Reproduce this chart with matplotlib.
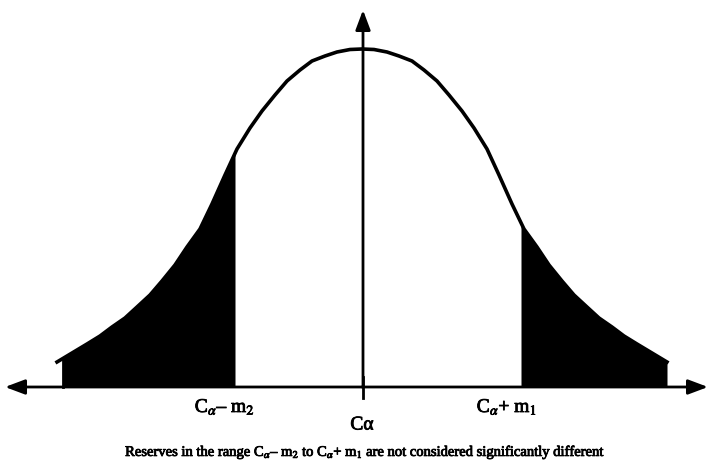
import matplotlib
matplotlib.use('Agg')
import matplotlib.pyplot as plt
import matplotlib.patheffects as pe

plt.rcParams['font.family'] = 'Liberation Serif'
plt.rcParams['mathtext.fontset'] = 'stix'

# Curve: x position (px) and height above the axis (px)
curve_x = [57, 72, 87, 100, 112, 125, 137, 150, 162, 175, 187, 200, 212,
           225, 237, 250, 262, 275, 287, 300, 312, 325, 337, 350,
           362,
           374, 387, 399, 412, 424, 437, 449, 462, 474, 487, 499, 512,
           524, 537, 549, 562, 574, 587, 599, 612, 624, 637, 652, 667]
curve_y = [25, 34, 43, 51, 60, 69, 80, 92, 106, 122, 140, 158, 183,
           212, 238, 259, 276, 292, 306, 317, 326, 331, 335, 337.5,
           338,
           337.5, 335, 331, 326, 317, 306, 292, 276, 259, 238, 212, 183,
           158, 140, 122, 106, 92, 80, 69, 60, 51, 43, 34, 25]

# Shaded tails (x range in px)
left_tail = (63, 235)
right_tail = (521, 667)

center = 362
axis_left, axis_right = 5, 708
axis_top = 377

labels = ['C$_\\alpha$\u2013 m$_2$', 'C\u03b1', 'C$_\\alpha$+ m$_1$']
label_x = [225, 362, 507]
label_y = [-20, -38, -20]
caption = ('Reserves in the range C$_\\alpha$\u2013 m$_2$ to '
           'C$_\\alpha$+ m$_1$ are not considered significantly different')

fig = plt.figure(figsize=(7.1, 4.71), dpi=100)
ax = fig.add_axes([0, 0, 1, 1])
ax.set_xlim(0, 710)
ax.set_ylim(-84, 387)
ax.axis('off')


def tail(lo, hi):
    xs = [x for x in curve_x if lo < x < hi]
    ys = [y for x, y in zip(curve_x, curve_y) if lo < x < hi]
    # curve height at the tail edges, from the neighbouring read points
    def at(v):
        for i in range(len(curve_x) - 1):
            if curve_x[i] <= v <= curve_x[i + 1]:
                f = (v - curve_x[i]) / (curve_x[i + 1] - curve_x[i])
                return curve_y[i] + f * (curve_y[i + 1] - curve_y[i])
        return curve_y[-1]
    return [lo] + xs + [hi], [at(lo)] + ys + [at(hi)]


lx, ly = tail(*left_tail)
ax.fill_between(lx, 0, ly, color='black', lw=0)
rx, ry = tail(*right_tail)
ax.fill_between(rx, 0, ry, color='black', lw=0)

# Bell curve
ax.plot(curve_x, curve_y, color='black', lw=2.6, solid_joinstyle='round')
ax.plot([left_tail[0], left_tail[0]], [0, 27], color='black', lw=2)

arrow = dict(arrowstyle='-|>,head_length=1.2,head_width=0.45',
             color='black', lw=2, shrinkA=0, shrinkB=0)
# Horizontal axis with arrows on both ends
ax.annotate('', xy=(axis_left, 0), xytext=(center, 0), arrowprops=arrow)
ax.annotate('', xy=(axis_right, 0), xytext=(center, 0), arrowprops=arrow)
# Vertical axis
ax.plot([center + 1, center + 1], [-11, 10], color='black', lw=2)
ax.annotate('', xy=(center + 1, axis_top), xytext=(center + 1, 0),
            arrowprops=arrow)

thick = [pe.withStroke(linewidth=0.6, foreground='black')]
for t, x, y in zip(labels, label_x, label_y):
    ax.text(x, y, t, ha='center', va='center', fontsize=14,
            path_effects=thick)

ax.text(366, -65, caption, ha='center', va='center', fontsize=10.5,
        path_effects=thick)

fig.savefig('out.png', dpi=100)
